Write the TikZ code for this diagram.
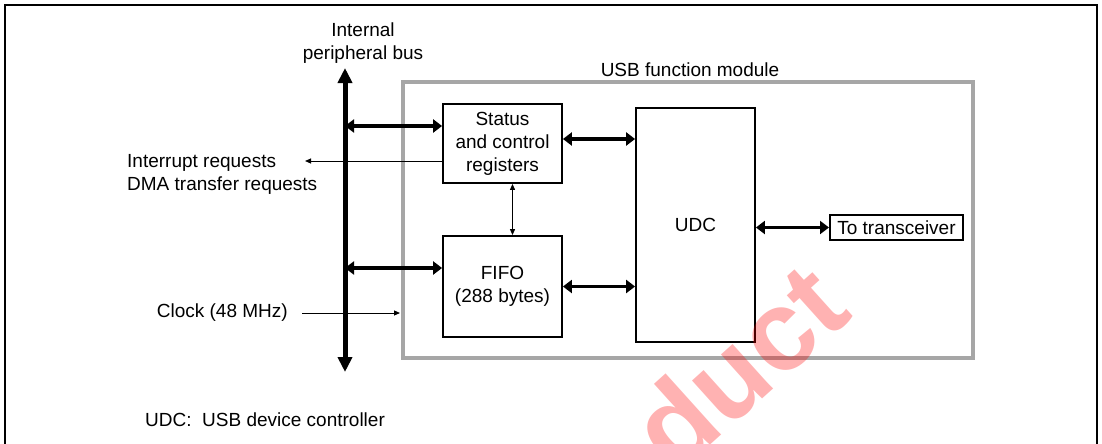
\documentclass[tikz,border=0pt]{standalone}
\usepackage{fontspec}
\setmainfont{Liberation Sans}
\usetikzlibrary{arrows.meta}
\begin{document}
\begin{tikzpicture}[x=1pt,y=-1pt,
  txt/.style={font=\fontsize{19}{23}\selectfont, inner sep=0pt, align=center},
  blk/.style={draw=black, line width=1.8pt, fill=white, font=\fontsize{19}{23}\selectfont, align=center, inner sep=0pt},
  fat/.style={line width=3.8pt, {Triangle[length=9pt,width=13pt]}-{Triangle[length=9pt,width=13pt]}},
  busline/.style={line width=5pt, {Triangle[length=15pt,width=14pt]}-{Triangle[length=15pt,width=14pt]}},
  thin/.style={line width=1pt, -{Triangle[length=6pt,width=5pt]}},
  thinboth/.style={line width=1pt, {Triangle[length=6pt,width=5pt]}-{Triangle[length=6pt,width=5pt]}}]
\useasboundingbox (0,0) rectangle (1102,444);
% outer frame
\draw[line width=2pt] (5,446) -- (5,5) -- (1097,5) -- (1097,446);
% module box
\draw[line width=4pt, draw=black!35] (403,82) rectangle (973,358);
\node[txt] (modlbl) at (690,70) {USB function module};
% blocks
\node[blk, minimum width=119pt, minimum height=79pt] (sc) at (502.5,143.5) {Status\\and control\\registers};
\node[blk, minimum width=119pt, minimum height=101pt] (fifo) at (502.5,286.5) {FIFO\\(288 bytes)};
\node[blk, minimum width=119pt, minimum height=234pt] (udc) at (695.5,225) {UDC};
\node[blk, minimum width=133pt, minimum height=25pt, line width=2pt] (tr) at (896.5,227.5) {To transceiver};
% bus
\coordinate (bustop) at (345,68);
\coordinate (busbot) at (345,372);
\draw[busline] (busbot) -- (bustop);
\node[txt] (buslbl) at (363,43.5) {Internal\\peripheral bus};
\coordinate (b1) at (345,126);
\coordinate (b2) at (345,268);
\draw[fat] (b1) -- (b1 -| sc.west);
\draw[fat] (b2) -- (b2 -| fifo.west);
\draw[fat] (sc.east |- 0,139) -- (udc.west |- 0,139);
\draw[fat] (fifo.east) -- (fifo.east -| udc.west);
\draw[fat] (udc.east |- tr.west) -- (tr.west);
\draw[thinboth] ([xshift=10pt]sc.south) -- ([xshift=10pt]fifo.north);
% interrupt
\node[txt, align=left, anchor=west] (irq) at (127,174) {Interrupt requests\\DMA transfer requests};
\coordinate (irqend) at (305,161);
\draw[thin] (sc.west |- irqend) -- (irqend);
% clock
\node[txt, anchor=east] (clk) at (288,313) {Clock (48 MHz)};
\coordinate (clkstart) at (302,313);
\coordinate (clkend) at (400,313);
\draw[thin] (clkstart) -- (clkend);
% footnote
\node[txt, anchor=west] (note) at (145,420) {UDC:\ \ USB device controller};
% watermark (on top, transparent)
\begin{scope}
\clip (5,5) rectangle (1097,444);
\node[text=red, text opacity=0.3, font=\fontsize{114}{114}\selectfont\bfseries, rotate=42, inner sep=0pt] (wm) at (738,366) {duct};
\end{scope}
\end{tikzpicture}
\end{document}
